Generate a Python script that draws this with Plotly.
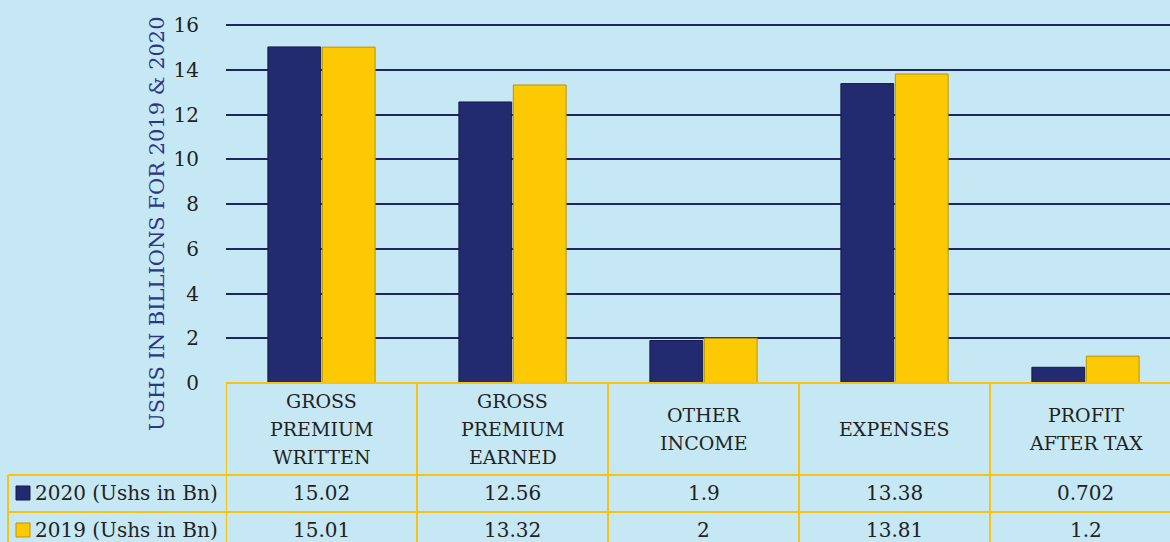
import plotly.graph_objects as go

categories = ["GROSS PREMIUM WRITTEN", "GROSS PREMIUM EARNED", "OTHER INCOME", "EXPENSES", "PROFIT AFTER TAX"]
header_lines = [["GROSS", "PREMIUM", "WRITTEN"], ["GROSS", "PREMIUM", "EARNED"],
                ["OTHER", "INCOME"], ["EXPENSES"], ["PROFIT", "AFTER TAX"]]
series_names = ["2020 (Ushs in Bn)", "2019 (Ushs in Bn)"]
values_2020 = [15.02, 12.56, 1.9, 13.38, 0.702]
values_2019 = [15.01, 13.32, 2, 13.81, 1.2]
value_text_2020 = ["15.02", "12.56", "1.9", "13.38", "0.702"]
value_text_2019 = ["15.01", "13.32", "2", "13.81", "1.2"]
y_ticks = [0, 2, 4, 6, 8, 10, 12, 14, 16]

W, H = 1170, 542
L, R, T, B = 226, 0, 21, 159
pw, ph = W - L - R, H - T - B
Y_TOP = 16 * ph / 358.0  # 16 sits at pixel row 25

def px_x(p):
    return (p - L) / pw

def px_y(p):
    return (H - B - p) / ph

BG = "#c6e8f5"
NAVY = "#222b70"
GOLD = "#fdc903"
YEL = "#f6c313"
FONT = "DejaVu Serif"
TXT = "#222222"

idx = list(range(len(categories)))
fig = go.Figure()
fig.add_trace(go.Bar(x=idx, y=values_2020, name=series_names[0],
                     marker=dict(color=NAVY, line=dict(color="#141a48", width=1))))
fig.add_trace(go.Bar(x=idx, y=values_2019, name=series_names[1],
                     marker=dict(color=GOLD, line=dict(color="#b99300", width=1))))

shapes = []
shapes.append(dict(type="line", xref="paper", yref="paper", x0=0, x1=1, y0=0, y1=0,
                   line=dict(color=YEL, width=2)))
for yy in (475, 512):
    shapes.append(dict(type="line", xref="paper", yref="paper", x0=px_x(8), x1=1,
                       y0=px_y(yy), y1=px_y(yy), line=dict(color=YEL, width=2)))
for i in range(len(categories)):
    shapes.append(dict(type="line", xref="x", yref="paper", x0=i - 0.5, x1=i - 0.5,
                       y0=0, y1=px_y(560), line=dict(color=YEL, width=2)))
shapes.append(dict(type="line", xref="paper", yref="paper", x0=px_x(8), x1=px_x(8),
                   y0=px_y(475), y1=px_y(560), line=dict(color=YEL, width=2)))
for (y0p, col, lc) in ((486, NAVY, "#141a48"), (523, GOLD, "#b99300")):
    shapes.append(dict(type="rect", xref="paper", yref="paper", x0=px_x(16), x1=px_x(30),
                       y0=px_y(y0p + 14), y1=px_y(y0p), fillcolor=col,
                       line=dict(color=lc, width=1)))

annotations = []
annotations.append(dict(text="USHS IN BILLIONS FOR 2019 &amp; 2020", xref="paper", yref="paper",
                        x=px_x(157), y=px_y(224), textangle=-90, showarrow=False,
                        xanchor="center", yanchor="middle",
                        font=dict(family=FONT, size=21, color="#2c3686")))
LINE_H = 28
for i, lines in enumerate(header_lines):
    n = len(lines)
    for k, ln in enumerate(lines):
        yy = 429 + (k - (n - 1) / 2.0) * LINE_H
        annotations.append(dict(text=ln, xref="x", yref="paper", x=i, y=px_y(yy),
                                showarrow=False, xanchor="center", yanchor="middle",
                                font=dict(family=FONT, size=19, color=TXT)))
for i in idx:
    annotations.append(dict(text=value_text_2020[i], xref="x", yref="paper", x=i, y=px_y(493),
                            showarrow=False, xanchor="center", yanchor="middle",
                            font=dict(family=FONT, size=20, color=TXT)))
    annotations.append(dict(text=value_text_2019[i], xref="x", yref="paper", x=i, y=px_y(530),
                            showarrow=False, xanchor="center", yanchor="middle",
                            font=dict(family=FONT, size=20, color=TXT)))
for name, yy in zip(series_names, (493, 530)):
    annotations.append(dict(text=name, xref="paper", yref="paper", x=px_x(33), y=px_y(yy),
                            showarrow=False, xanchor="left", yanchor="middle",
                            font=dict(family=FONT, size=20, color=TXT)))

fig.update_layout(
    width=W, height=H,
    margin=dict(l=L, r=R, t=T, b=B),
    paper_bgcolor=BG, plot_bgcolor=BG,
    barmode="group", bargap=0.43, bargroupgap=0.03,
    showlegend=False,
    shapes=shapes, annotations=annotations,
    xaxis=dict(range=[-0.5, -0.5 + pw / 191.0], showticklabels=False, showgrid=False,
               zeroline=False, showline=False, ticks=""),
    yaxis=dict(range=[0, Y_TOP], tickvals=y_ticks, showgrid=True, gridcolor="#1c2566", gridwidth=2,
               zeroline=False, showline=False, ticks="", ticklabelstandoff=26,
               tickfont=dict(family=FONT, size=20, color=TXT)),
)

fig.write_html("out.html")
